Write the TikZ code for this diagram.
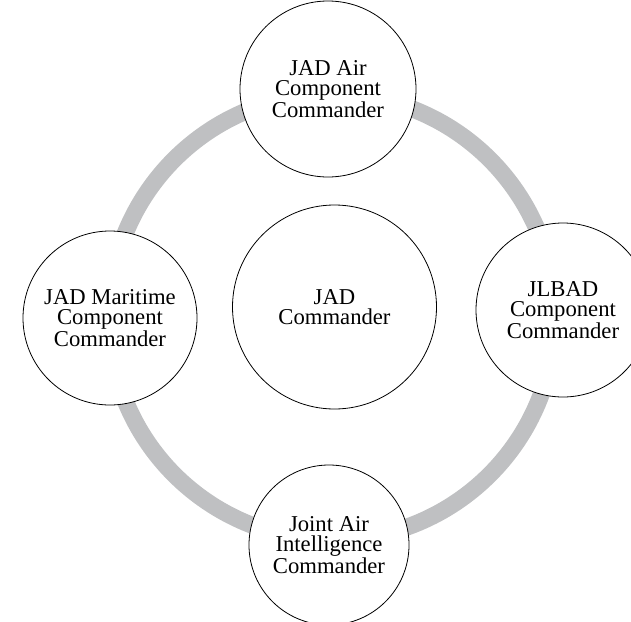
\documentclass[tikz,border=0pt]{standalone}
\usepackage{fontspec}
\setmainfont{Liberation Serif}
\definecolor{ringgray}{RGB}{191,192,194}
\tikzset{
    role/.style={circle, draw, fill=white, line width=0.6pt, align=center,
        inner sep=0pt, font=\fontsize{17}{15.4}\selectfont},
}
\begin{document}
\begin{tikzpicture}[x=0.75pt,y=-0.75pt]
        \useasboundingbox (0,0) rectangle (631,621);
        \clip (0,0) rectangle (631,621);
        % Ring behind the commanders.
        \coordinate (hub) at (332,317);
        \draw[ringgray, line width=12.75pt] (hub) circle (167.25pt);
        \node[role, minimum size=153pt] (jad) at (334.5,307) {JAD\\Commander};
        \node[role, minimum size=132pt] (air) at (328,89) {JAD Air\\Component\\Commander};
        \node[role, minimum size=130.5pt] (jlbad) at (563,310) {JLBAD\\Component\\Commander};
        \node[role, minimum size=130.5pt] (maritime) at (110,318) {JAD Maritime\\Component\\Commander};
        \node[role, minimum size=120pt] (intel) at (329,545) {Joint Air\\Intelligence\\Commander};
    \end{tikzpicture}
\end{document}
